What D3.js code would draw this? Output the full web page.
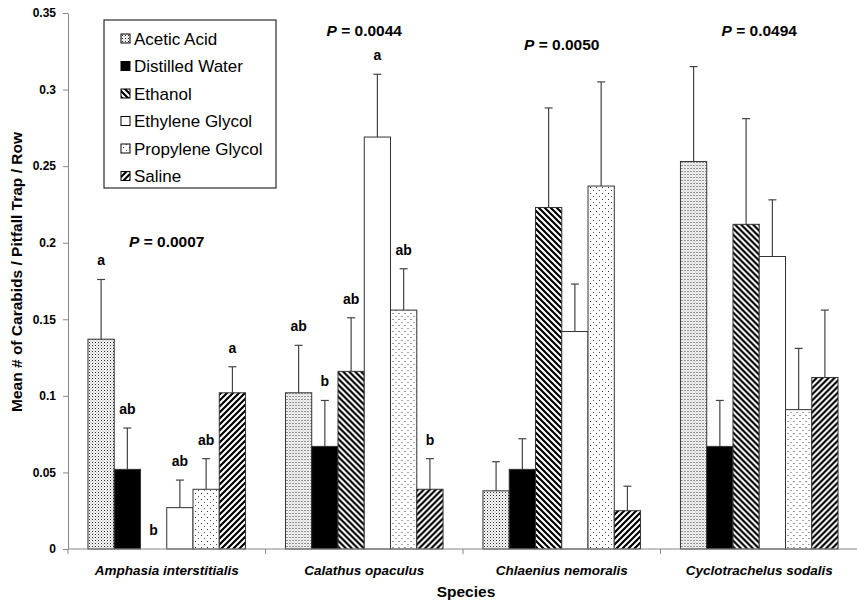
<!DOCTYPE html>
<html>
<head>
<meta charset="utf-8">
<script src="https://cdn.jsdelivr.net/npm/d3@7"></script>
<style>
  body { margin: 0; background: #fff; }
  text { font-family: "Liberation Sans", Arial, sans-serif; }
</style>
</head>
<body>
<div id="chart"></div>
<script>
// Data
const categories = ['Amphasia interstitialis', 'Calathus opaculus', 'Chlaenius nemoralis', 'Cyclotrachelus sodalis'];
const series = ['Acetic Acid', 'Distilled Water', 'Ethanol', 'Ethylene Glycol', 'Propylene Glycol', 'Saline'];

// means[series][category]
const means = [
    [0.137, 0.102, 0.038, 0.253],
    [0.052, 0.067, 0.052, 0.067],
    [0.000, 0.116, 0.223, 0.212],
    [0.027, 0.269, 0.142, 0.191],
    [0.039, 0.156, 0.237, 0.091],
    [0.102, 0.039, 0.025, 0.112]
];
const errors = [
    [0.039, 0.031, 0.019, 0.062],
    [0.027, 0.030, 0.020, 0.030],
    [0.000, 0.035, 0.065, 0.069],
    [0.018, 0.041, 0.031, 0.037],
    [0.020, 0.027, 0.068, 0.040],
    [0.017, 0.020, 0.016, 0.044]
];
// significance letters per category, one per series
const letters = [
    ['a', 'ab', 'b', 'ab', 'ab', 'a'],
    ['ab', 'b', 'ab', 'a', 'ab', 'b'],
    [],
    []
];
const pValues = ['0.0007', '0.0044', '0.0050', '0.0494'];
const pLabelAt = [0.197, 0.335, 0.326, 0.335];
const yTicks = [0, 0.05, 0.1, 0.15, 0.2, 0.25, 0.3, 0.35];

const W = 857, H = 602;
const margin = {left: 68, top: 13};

const svg = d3.select('#chart').append('svg')
    .attr('width', W).attr('height', H);

// patterns
const defs = svg.append('defs');
function pattern(id, size, draw) {
    const p = defs.append('pattern')
        .attr('id', id)
        .attr('patternUnits', 'userSpaceOnUse')
        .attr('width', size).attr('height', size);
    p.append('rect').attr('width', size).attr('height', size).attr('fill', '#fff');
    draw(p);
}
pattern('pAcetic', 3, p => {
    p.append('rect').attr('x', 0).attr('y', 0).attr('width', 1).attr('height', 1).attr('fill', '#222');
    p.append('rect').attr('x', 1.5).attr('y', 1.5).attr('width', 1).attr('height', 1).attr('fill', '#777');
});
pattern('pEthanol', 6, p => {
    p.append('path').attr('d', 'M-1,-1 L7,7 M-4,2 L4,10 M2,-4 L10,4')
        .attr('stroke', '#000').attr('stroke-width', 2.2);
});
pattern('pProp', 6, p => {
    p.append('rect').attr('x', 1).attr('y', 1).attr('width', 1).attr('height', 1).attr('fill', '#333');
    p.append('rect').attr('x', 4).attr('y', 4).attr('width', 1).attr('height', 1).attr('fill', '#555');
});
pattern('pSaline', 6, p => {
    p.append('path').attr('d', 'M-1,7 L7,-1 M-4,4 L4,-4 M2,10 L10,2')
        .attr('stroke', '#000').attr('stroke-width', 2.2);
});
const fills = ['url(#pAcetic)', '#000', 'url(#pEthanol)', '#fff', 'url(#pProp)', 'url(#pSaline)'];

const x = d3.scaleBand()
    .domain(categories)
    .range([margin.left, 858]);
const xs = d3.scaleBand()
    .domain(series)
    .range([0, x.bandwidth()])
    .paddingOuter(0.76);
const y = d3.scaleLinear()
    .domain([0, 0.35])
    .range([549, 13]);

// bars
categories.forEach((cat, ci) => {
    const g = svg.append('g').attr('transform', `translate(${x(cat)},0)`);
    series.forEach((s, si) => {
        const v = means[si][ci];
        const e = errors[si][ci];
        const bx = xs(s);
        const cx = bx + xs.bandwidth() / 2;
        if (v > 0) {
            g.append('line')
                .attr('x1', cx).attr('x2', cx)
                .attr('y1', y(v)).attr('y2', y(v + e))
                .attr('stroke', '#444').attr('stroke-width', 1.2);
            g.append('line')
                .attr('x1', cx - 4).attr('x2', cx + 4)
                .attr('y1', y(v + e)).attr('y2', y(v + e))
                .attr('stroke', '#444').attr('stroke-width', 1.2);
            g.append('rect')
                .attr('x', bx).attr('y', y(v))
                .attr('width', xs.bandwidth()).attr('height', y(0) - y(v))
                .attr('fill', fills[si])
                .attr('stroke', '#333').attr('stroke-width', 1);
        }
        const lt = letters[ci][si];
        if (lt) {
            g.append('text')
                .attr('x', cx).attr('y', y(v + e) - 14)
                .attr('text-anchor', 'middle')
                .style('font-size', '14px').style('font-weight', 'bold')
                .text(lt);
        }
    });
    const pt = svg.append('text')
        .attr('x', x(cat) + x.bandwidth() / 2)
        .attr('y', y(pLabelAt[ci]))
        .attr('text-anchor', 'middle')
        .style('font-size', '15.5px').style('font-weight', 'bold');
    pt.append('tspan').style('font-style', 'italic').text('P');
    pt.append('tspan').text(' = ' + pValues[ci]);
});

// y axis
const yAxis = svg.append('g')
    .attr('transform', `translate(${margin.left},0)`)
    .call(d3.axisLeft(y).tickValues(yTicks).tickSize(5).tickSizeOuter(0)
        .tickFormat(d => d === 0 ? '0' : String(+d.toFixed(2))));
yAxis.select('.domain').attr('stroke', '#888');
yAxis.selectAll('.tick line').attr('stroke', '#888');
yAxis.selectAll('.tick text')
    .attr('x', -12)
    .style('font-size', '12px').style('font-weight', 'bold')
    .style('font-family', '"Liberation Sans", Arial, sans-serif').attr('fill', '#000');

// x axis
svg.append('line')
    .attr('x1', margin.left).attr('x2', 857)
    .attr('y1', y(0)).attr('y2', y(0))
    .attr('stroke', '#888');
categories.forEach(cat => {
    svg.append('line')
        .attr('x1', x(cat)).attr('x2', x(cat))
        .attr('y1', y(0)).attr('y2', y(0) + 5)
        .attr('stroke', '#888');
    svg.append('text')
        .attr('x', x(cat) + x.bandwidth() / 2)
        .attr('y', 575)
        .attr('text-anchor', 'middle')
        .style('font-size', '13.5px').style('font-style', 'italic').style('font-weight', 'bold')
        .text(cat);
});

svg.append('text')
    .attr('x', 466).attr('y', 597)
    .attr('text-anchor', 'middle')
    .style('font-size', '15.5px').style('font-weight', 'bold')
    .text('Species');

svg.append('text')
    .attr('transform', 'rotate(-90)')
    .attr('x', -272)
    .attr('y', 22)
    .attr('text-anchor', 'middle')
    .style('font-size', '15.5px').style('font-weight', 'bold')
    .text('Mean # of Carabids / Pitfall Trap / Row');

// legend
const legend = svg.append('g').attr('transform', 'translate(104,20)');
legend.append('rect')
    .attr('width', 172).attr('height', 168)
    .attr('fill', '#fff').attr('stroke', '#000').attr('stroke-width', 1);
series.forEach((s, i) => {
    const ly = 18.5 + i * 27.5;
    legend.append('rect')
        .attr('x', 17).attr('y', ly - 4.5)
        .attr('width', 9).attr('height', 9)
        .attr('fill', fills[i]).attr('stroke', '#000').attr('stroke-width', 1);
    legend.append('text')
        .attr('x', 30).attr('y', ly + 6)
        .style('font-size', '17px')
        .text(s);
});
</script>
</body>
</html>
